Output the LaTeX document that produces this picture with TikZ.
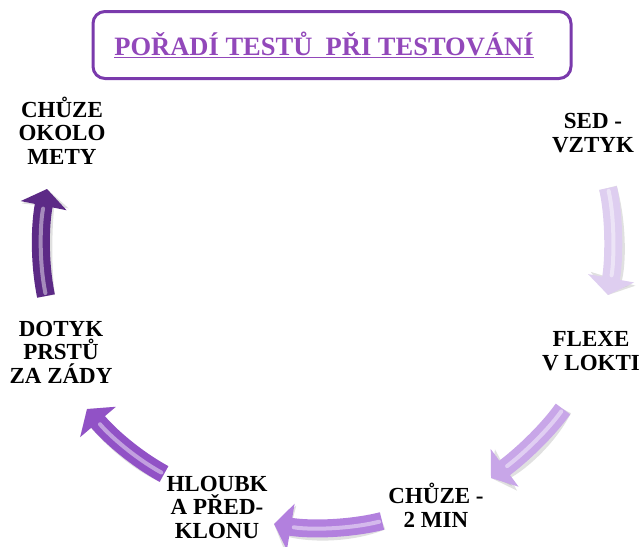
\documentclass[tikz,border=0pt]{standalone}
\usepackage{fontspec}
\setmainfont{Liberation Serif}
\usetikzlibrary{arrows.meta}
\definecolor{titlec}{RGB}{146,72,186}
\definecolor{boxc}{RGB}{122,58,172}
\definecolor{ac1}{RGB}{222,206,240}
\definecolor{ac2}{RGB}{200,166,232}
\definecolor{ac3}{RGB}{178,128,222}
\definecolor{ac4}{RGB}{145,82,198}
\definecolor{ac5}{RGB}{92,42,134}
\tikzset{
  lbl/.style={font=\bfseries\fontsize{23}{23.5}\selectfont, align=center, anchor=base, inner sep=0pt, text=black},
  bigarrow/.style={line width=18pt, draw=#1, -{Triangle[length=17pt,width=46pt,fill=#1]}},
  shine/.style={line width=4pt, draw=white, draw opacity=0.45, line cap=round, shorten >=20pt, shorten <=3pt},
  shadowarrow/.style={line width=18pt, draw=black!60, opacity=0.2, -{Triangle[length=17pt,width=46pt]}}
}
\begin{document}
\begin{tikzpicture}[x=1pt,y=-1pt]
\useasboundingbox (0,0) rectangle (644,546);
% title
\node[draw=boxc, line width=3pt, rounded corners=12pt, minimum width=478pt, minimum height=67pt, inner sep=0pt] (box) at (332,45) {};
\node[font=\bfseries\fontsize{26.5}{28}\selectfont, text=titlec, inner sep=0pt, anchor=base] (title) at (324,55) {\underline{POŘADÍ TESTŮ\ \ PŘI TESTOVÁNÍ}};
% labels (anchor = baseline of last line)
\node[lbl] (sed) at (593,152) {SED -\\VZTYK};
\node[lbl] (flexe) at (591,370) {FLEXE\\V LOKTI};
\node[lbl] (chuze) at (436,527) {CHŮZE -\\2 MIN};
\node[lbl] (hloubka) at (217,538) {HLOUBK\\A PŘED-\\KLONU};
\node[lbl] (dotyk) at (61,383) {DOTYK\\PRSTŮ\\ZA ZÁDY};
\node[lbl] (okolo) at (62,164) {CHŮZE\\OKOLO\\METY};
% arrow end points
\coordinate (a1s) at (608,188); \coordinate (a1e) at (608,295);
\coordinate (a2s) at (563,409); \coordinate (a2e) at (491,478);
\coordinate (a3s) at (382,521); \coordinate (a3e) at (274,524);
\coordinate (a4s) at (164,474); \coordinate (a4e) at (87,409);
\coordinate (a5s) at (46,296);  \coordinate (a5e) at (47,189);
% shadows
\begin{scope}[shift={(3,4)}]
\draw[shadowarrow] (a1s) .. controls (615,220) and (614,262) .. (a1e);
\draw[shadowarrow] (a2s) .. controls (545,434) and (518,458) .. (a2e);
\draw[shadowarrow] (a3s) .. controls (350,529) and (310,530) .. (a3e);
\draw[shadowarrow] (a4s) .. controls (135,458) and (110,436) .. (a4e);
\draw[shadowarrow] (a5s) .. controls (39,262) and (40,224) .. (a5e);
\end{scope}
% arrows
\draw[bigarrow=ac1] (a1s) .. controls (615,220) and (614,262) .. (a1e);
\draw[shine] (a1s) .. controls (615,220) and (614,262) .. (a1e);
\draw[bigarrow=ac2] (a2s) .. controls (545,434) and (518,458) .. (a2e);
\draw[shine] (a2s) .. controls (545,434) and (518,458) .. (a2e);
\draw[bigarrow=ac3] (a3s) .. controls (350,529) and (310,530) .. (a3e);
\draw[shine] (a3s) .. controls (350,529) and (310,530) .. (a3e);
\draw[bigarrow=ac4] (a4s) .. controls (135,458) and (110,436) .. (a4e);
\draw[shine] (a4s) .. controls (135,458) and (110,436) .. (a4e);
\draw[bigarrow=ac5] (a5s) .. controls (39,262) and (40,224) .. (a5e);
\draw[shine] (a5s) .. controls (39,262) and (40,224) .. (a5e);
\end{tikzpicture}
\end{document}
